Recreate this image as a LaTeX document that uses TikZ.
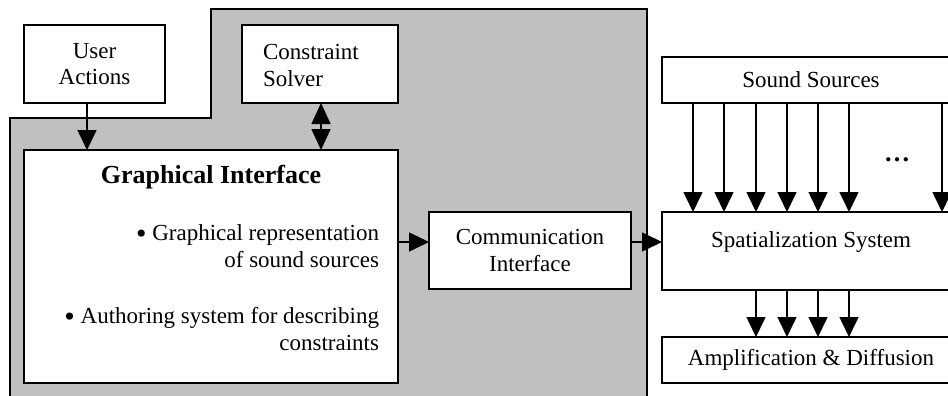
\documentclass[tikz,border=0pt]{standalone}
\usepackage{fontspec}
\setmainfont{Liberation Serif}
\usetikzlibrary{arrows.meta,calc}
\definecolor{regiongray}{RGB}{192,192,192}
\tikzset{
  box/.style={draw=black, fill=white, line width=1.6pt, inner sep=0pt, outer sep=0pt,
              font=\fontsize{23}{26.5}\selectfont, align=center},
  txt/.style={inner sep=0pt, outer sep=0pt, font=\fontsize{23}{27}\selectfont},
  arr/.style={line width=1.6pt, -{Triangle[length=20pt,width=19pt]}},
  arrtwo/.style={line width=1.6pt, {Triangle[length=21pt,width=19pt]}-{Triangle[length=21pt,width=19pt]}},
}
\newcommand{\bigbul}{\raisebox{-0.11em}{\scalebox{1.3}{\textbullet}}}
\begin{document}
\begin{tikzpicture}[x=1pt,y=-1pt]
\useasboundingbox (0,0) rectangle (948,396);
\clip (0,0) rectangle (948,396);
% gray region
\fill[fill=regiongray] (10,410) -- (10,118) -- (211,118) -- (211,9) -- (647,9) -- (647,410) -- cycle;
\draw[line width=1.6pt] (10,410) -- (10,118) -- (211,118) -- (211,9) -- (647,9) -- (647,410);
% boxes
\node[box, minimum width=141pt, minimum height=78pt] (ua) at (94.5,64) {User\\Actions};
\node[box, minimum width=156pt, minimum height=78pt] (cs) at (320,64) {};
\node[txt, anchor=west, align=left] (cstext) at (263,65) {Constraint\\Solver};
\node[box, minimum width=374pt, minimum height=233pt] (gi) at (211,266.5) {};
\node[txt, font=\fontsize{26}{30}\selectfont\bfseries] (gititle) at (211,177) {Graphical Interface};
\node[txt, anchor=east, align=right] (gib1) at (379,246.5) {\bigbul{} Graphical representation\\of sound sources};
\node[txt, anchor=east, align=right] (gib2) at (379,329) {\bigbul{} Authoring system for describing\\constraints};
\node[box, minimum width=202pt, minimum height=77pt] (comm) at (530,250.5) {Communication\\Interface};
\node[box, minimum width=298pt, minimum height=46pt] (ss) at (811,80) {Sound Sources};
\node[box, minimum width=298pt, minimum height=78pt] (sp) at (811,251) {};
\node[txt] (sptext) at (811,242) {Spatialization System};
\node[box, minimum width=298pt, minimum height=46pt] (amp) at (811,360) {Amplification \& Diffusion};
\node[txt, font=\fontsize{26}{30}\selectfont\bfseries] (dots) at (897,160) {\ldots};
% connectors
\draw[arr] ([xshift=-7.5pt]ua.south) -- ([xshift=-7.5pt]ua.south |- gi.north);
\draw[arrtwo] ([xshift=1pt]cs.south) -- ([xshift=1pt]cs.south |- gi.north);
\coordinate (cin) at ([yshift=8.5pt]comm.west);
\coordinate (spin) at ([yshift=9pt]sp.west);
\draw[arr] (gi.east |- cin) -- (cin);
\draw[arr] (comm.east |- spin) -- (spin);
\foreach \x in {693,724,756,787,818,849,942}
  \draw[arr] (\x,0 |- ss.south) -- (\x,0 |- sp.north);
\foreach \x in {756,787,818,849}
  \draw[arr] (\x,0 |- sp.south) -- (\x,0 |- amp.north);
\end{tikzpicture}
\end{document}
